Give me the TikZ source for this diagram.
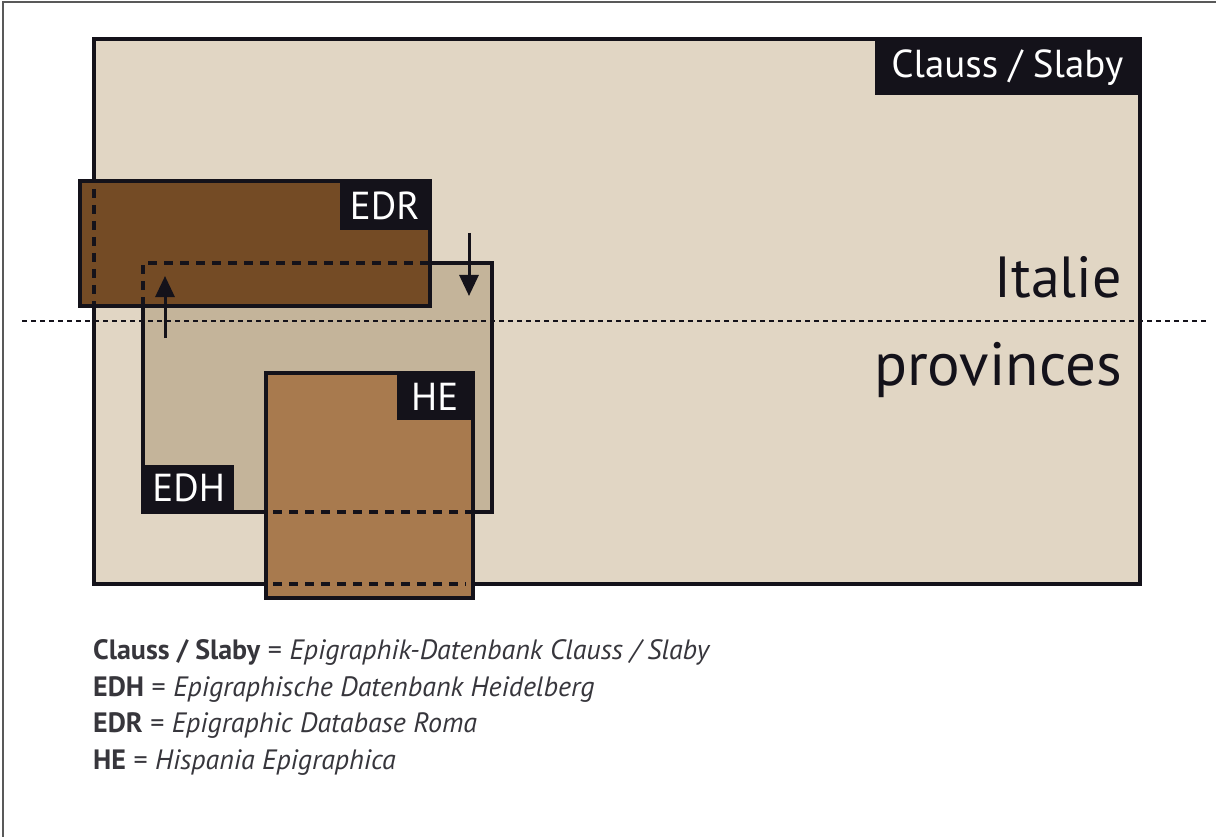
\documentclass[tikz,border=0pt]{standalone}
\usepackage{fontspec}
\setmainfont{PT Sans}
\usetikzlibrary{arrows.meta}
\definecolor{bgmain}{HTML}{E1D6C4}
\definecolor{edrfill}{HTML}{744B25}
\definecolor{edhfill}{HTML}{C4B49A}
\definecolor{hefill}{HTML}{A87A4E}
\definecolor{ink}{HTML}{14121A}
\tikzset{
  boxline/.style={draw=ink, line width=3.3pt},
  dashline/.style={draw=ink, line width=3.3pt, dash pattern=on 9pt off 7pt},
  lab/.style={fill=ink, text=white, inner sep=0pt, font=\fontsize{39}{42}\selectfont},
  bigtxt/.style={inner sep=0pt, text=ink, font=\fontsize{58}{62}\selectfont},
  legend/.style={inner sep=0pt, anchor=base west, text=ink!85, font=\fontsize{28}{30}\selectfont},
  arr/.style={draw=ink, line width=3pt, -{Triangle[length=21pt,width=19pt]}}
}
\begin{document}
\begin{tikzpicture}[x=1pt,y=-1pt]
\useasboundingbox (0,0) rectangle (1216,837);
% outer frame
\draw[gray!70!black, line width=1.6pt] (3,837) -- (3,2) -- (1216,2);
% main rectangle
\fill[bgmain] (94,39) rectangle (1140,584);
\draw[boxline, line width=3.5pt] (94,39) rectangle (1140,584);
\node[lab, minimum width=265pt, minimum height=56pt, anchor=north east] (cs) at (1140,39) {Clauss / Slaby};
% EDH
\fill[edhfill] (143,263) rectangle (492,512);
\draw[boxline] (143,263) rectangle (492,512);
\node[lab, minimum width=91pt, minimum height=47pt, anchor=south west] (edh) at (143,512) {EDH};
% EDR
\fill[edrfill] (80,181) rectangle (430,306);
\draw[boxline] (80,181) rectangle (430,306);
\node[lab, minimum width=90pt, minimum height=49pt, anchor=north east] (edr) at (430,181) {EDR};
\draw[dashline] (94,189) -- (94,306);
\draw[dashline] (143,306) -- (143,263) -- (430,263);
% HE
\fill[hefill] (266,373) rectangle (473,598);
\draw[boxline] (266,373) rectangle (473,598);
\node[lab, minimum width=76pt, minimum height=47pt, anchor=north east] (he) at (473,373) {HE};
\draw[dashline] (273,512) -- (473,512);
\draw[dashline] (273,584) -- (466,584);
% arrows
\coordinate (a1s) at (165,338);
\coordinate (a1e) at (165,276);
\coordinate (a2s) at (469,233);
\coordinate (a2e) at (469,296);
\draw[arr] (a1s) -- (a1e);
\draw[arr] (a2s) -- (a2e);
% dotted divider
\coordinate (dl) at (22,321);
\coordinate (dr) at (1206,321);
\draw[ink, line width=2.2pt, dash pattern=on 5pt off 4pt] (dl) -- (dr);
% Italie / provinces
\node[bigtxt, anchor=base east] (it) at (1122,298) {Italie};
\node[bigtxt, anchor=base east, font=\fontsize{61}{64}\selectfont] (pr) at (1122,385) {provinces};
% legend
\node[legend] (l1) at (93,659) {\textbf{Clauss / Slaby} = \textit{Epigraphik-Datenbank Clauss / Slaby}};
\node[legend] (l2) at (93,696) {\textbf{EDH} = \textit{Epigraphische Datenbank Heidelberg}};
\node[legend] (l3) at (93,732) {\textbf{EDR} = \textit{Epigraphic Database Roma}};
\node[legend] (l4) at (93,769) {\textbf{HE} = \textit{Hispania Epigraphica}};
\end{tikzpicture}
\end{document}
